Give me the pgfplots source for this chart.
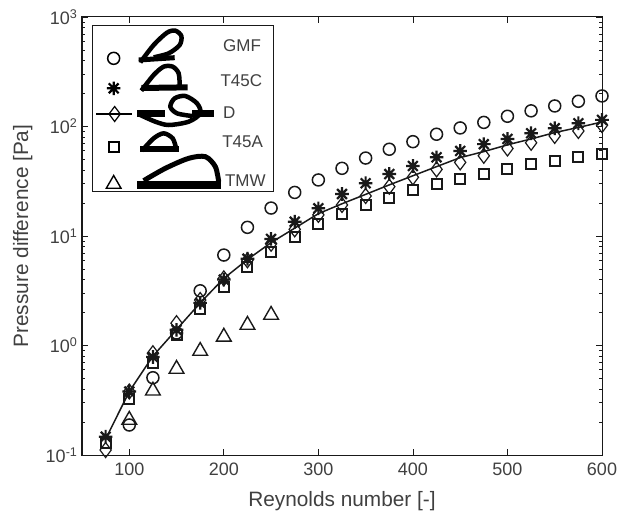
\documentclass[border=0pt]{standalone}
\usepackage{pgfplots}
\pgfplotsset{compat=1.18}
\usepackage{fontspec}
\setmainfont{Liberation Sans}
\definecolor{ink}{gray}{0.1}
\definecolor{txt}{gray}{0.25}
\pgfdeclareplotmark{star8}{%
  \pgfpathmoveto{\pgfqpoint{-\pgfplotmarksize}{0pt}}\pgfpathlineto{\pgfqpoint{\pgfplotmarksize}{0pt}}%
  \pgfpathmoveto{\pgfqpoint{0pt}{-\pgfplotmarksize}}\pgfpathlineto{\pgfqpoint{0pt}{\pgfplotmarksize}}%
  \pgfpathmoveto{\pgfqpoint{-.72\pgfplotmarksize}{-.72\pgfplotmarksize}}\pgfpathlineto{\pgfqpoint{.72\pgfplotmarksize}{.72\pgfplotmarksize}}%
  \pgfpathmoveto{\pgfqpoint{-.72\pgfplotmarksize}{.72\pgfplotmarksize}}\pgfpathlineto{\pgfqpoint{.72\pgfplotmarksize}{-.72\pgfplotmarksize}}%
  \pgfusepathqstroke}
\begin{document}
\begin{tikzpicture}[x=1pt,y=1pt]
\path[use as bounding box] (0,0) rectangle (617,-513);
\begin{axis}[
  at={(82pt,-455pt)}, anchor=south west, scale only axis,
  width=520pt, height=438pt,
  ymode=log, xmin=50, xmax=600, ymin=0.1, ymax=1000,
  xtick={100,200,300,400,500,600},
  ytick={0.1,1,10,100,1000},
  yticklabels={10\textsuperscript{-1},10\textsuperscript{0},10\textsuperscript{1},10\textsuperscript{2},10\textsuperscript{3}},
  /pgf/number format/assume math mode=true,
  tick align=inside, tick style={color=ink,line width=0.8pt},
  major tick length=6pt, minor tick length=3.5pt,
  axis line style={color=ink,line width=1pt},
  every axis plot/.append style={color=ink},
  ticklabel style={font=\fontsize{18}{18}\selectfont,text=txt},
  xticklabel style={yshift=-4pt},
  yticklabel style={xshift=-1pt},
  xlabel={Reynolds number [-]}, ylabel={Pressure difference [Pa]},
  label style={font=\fontsize{20.8}{21}\selectfont,text=txt},
  xlabel style={at={(axis description cs:0.5,0)},yshift=-33pt},
  ylabel style={at={(axis description cs:0,0.5)},yshift=46pt},
  clip=false,
]
% GMF
\addplot[only marks,mark=o,mark size=6pt,mark options={line width=1.5pt}] coordinates {
(100,0.188)(125,0.508)(150,1.3)(175,3.16)(200,6.7)(225,12)(250,18)(275,25)(300,32.5)(325,41.5)(350,51.5)(375,62)(400,72.7)(425,85)(450,97)(475,109)(500,124)(525,139)(550,154)(575,170)(600,190)};
% TMW
\addplot[only marks,mark=triangle,mark size=8.5pt,mark options={line width=1.4pt}] coordinates {
(100,0.209)(125,0.386)(150,0.61)(175,0.89)(200,1.2)(225,1.54)(250,1.9)};
% D line
\addplot[line width=1.5pt] coordinates {
(75,0.14)(100,0.38)(125,0.8)(150,1.4)(175,2.45)(200,4.1)(225,6.1)(250,8.7)(275,11.8)(300,16)(325,19.7)(350,24)(375,29.3)(400,35.5)(425,43)(450,52)(475,59)(500,68)(525,77)(550,88)(575,98)(600,110)};
% D marks
\addplot[only marks,mark=diamond,mark size=7.5pt,mark options={line width=1.2pt}] coordinates {
(75,0.111)(100,0.38)(125,0.85)(150,1.6)(175,2.6)(200,4.1)(225,6)(250,8.5)(275,11.5)(300,15.6)(325,19.2)(350,23.2)(375,28.2)(400,34.4)(425,40.6)(450,47)(475,54)(500,63)(525,71)(550,82)(575,91)(600,103)};
% T45A
\addplot[only marks,mark=square,mark size=5pt,mark options={line width=2pt}] coordinates {
(75,0.128)(100,0.325)(125,0.69)(150,1.25)(175,2.15)(200,3.4)(225,5.2)(250,7.2)(275,9.8)(300,12.8)(325,15.9)(350,19.2)(375,22.4)(400,26.3)(425,29.6)(450,33.4)(475,37)(500,40.6)(525,45.2)(550,48.4)(575,52.6)(600,55.7)};
% T45C
\addplot[only marks,mark=star8,mark size=6.8pt,mark options={line width=2.2pt}] coordinates {
(75,0.147)(100,0.38)(125,0.785)(150,1.39)(175,2.45)(200,4)(225,6.2)(250,9.4)(275,13.5)(300,17.9)(325,24.2)(350,30.3)(375,36.8)(400,43.6)(425,52.3)(450,59.8)(475,69)(500,77)(525,86.7)(550,96.4)(575,107)(600,115)};
\end{axis}
% legend panel, in its own axis
\begin{axis}[
  at={(92pt,-191pt)}, anchor=south west, scale only axis,
  width=181.67pt, height=165.33pt,
  xmin=20, xmax=565, ymin=47, ymax=543, y dir=reverse,
  ticks=none, clip=false,
  axis line style={color=ink,line width=1pt},
  axis background/.style={fill=white},
  every axis plot/.append style={color=black},
]
% marks
\addplot[only marks,mark=o,mark size=6pt,mark options={line width=1.5pt}] coordinates {(85,145)};
\addplot[only marks,mark=star8,mark size=6.8pt,mark options={line width=2.2pt}] coordinates {(85,235)};
\addplot[line width=1.5pt] coordinates {(33,312)(140,312)};
\addplot[only marks,mark=diamond,mark size=7.5pt,mark options={line width=1.2pt}] coordinates {(88,312)};
\addplot[only marks,mark=square,mark size=5pt,mark options={line width=2pt}] coordinates {(87,410)};
\addplot[only marks,mark=triangle,mark size=8.5pt,mark options={line width=1.4pt}] coordinates {(85,522)};
% GMF sketch
\addplot[line width=5pt] coordinates {(160,150)(268,143)};
\addplot[smooth,line width=4.5pt] coordinates {(165,157)(205,105)(245,68)(270,62)(288,78)(283,105)(250,130)(205,142)};
% T45C
\addplot[line width=6pt] coordinates {(168,234)(307,232)};
\addplot[smooth,line width=4.5pt] coordinates {(168,242)(205,195)(235,170)(262,170)(280,190)(283,228)};
% D
\addplot[line width=7pt] coordinates {(155,311)(240,311)};
\addplot[line width=7pt] coordinates {(320,311)(385,311)};
\addplot[smooth,line width=4.5pt] coordinates {(165,315)(210,335)(250,345)(310,335)(345,310)(335,280)(300,258)(268,265)(255,290)(275,310)(320,318)};
% T45A
\addplot[line width=6pt] coordinates {(165,417)(282,417)};
\addplot[smooth,line width=4.5pt] coordinates {(170,422)(205,385)(235,370)(262,385)(272,414)};
% TMW
\addplot[line width=7.5pt] coordinates {(155,525)(408,525)};
\addplot[smooth,line width=5pt] coordinates {(175,512)(240,475)(310,445)(360,440)(390,470)(400,515)};
% labels
\node[font=\fontsize{17}{17}\selectfont,text=txt] at (axis cs:470,107) {GMF};
\node[font=\fontsize{17}{17}\selectfont,text=txt] at (axis cs:468,212) {T45C};
\node[font=\fontsize{17}{17}\selectfont,text=txt] at (axis cs:432,308) {D};
\node[font=\fontsize{17}{17}\selectfont,text=txt] at (axis cs:472,395) {T45A};
\node[font=\fontsize{17}{17}\selectfont,text=txt] at (axis cs:480,512) {TMW};
\end{axis}
\end{tikzpicture}
\end{document}
